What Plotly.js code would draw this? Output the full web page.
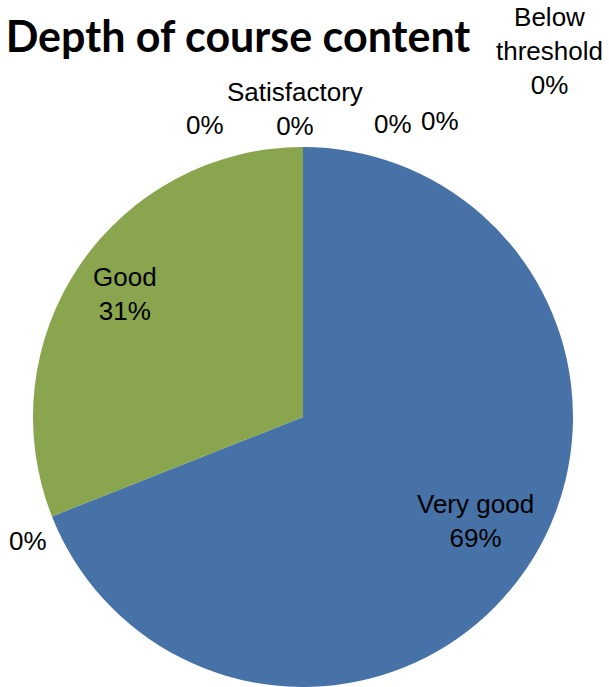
<!DOCTYPE html>
<html>
<head>
<meta charset="utf-8">
<script src="https://cdn.plot.ly/plotly-3.0.1.min.js"></script>
<style>html,body{margin:0;padding:0;background:#fff;}#chart{width:609px;height:687px;}</style>
</head>
<body>
<div id="chart"></div>
<script>
// Data
var categories = ["Very good", "", "Good", "", "", "Satisfactory", "", "Below threshold"];
var shares = [69, 0, 31, 0, 0, 0, 0, 0];
var sliceColors = ["#4672A8", "#AA4643", "#89A54E", "#80699B", "#3D96AE", "#DB843D", "#92A8CD", "#A47D7C"];
var chartTitle = "Depth of course content";

// data-label placement (pixels, as Excel placed them)
var labelPos = {
  0: [475, 521],
  1: [28, 541],
  2: [125, 294],
  3: [205, 125],
  4: [393, 124],
  5: [295, 109],
  6: [440, 121],
  7: [549, 51]
};

var W = 609, H = 687;
var labelFont = { family: "Liberation Sans, Arial, sans-serif", size: 26, color: "#000" };

var trace = {
  type: "pie",
  values: shares,
  labels: categories.map(function (c, i) { return c || ("#" + i); }),
  textinfo: "none",
  sort: false,
  direction: "clockwise",
  rotation: 0,
  marker: { colors: sliceColors, line: { width: 0 } },
  domain: { x: [32 / W, 574 / W], y: [0, 540 / H] },
  showlegend: false,
  hoverinfo: "none"
};

var total = shares.reduce(function (a, b) { return a + b; }, 0);
var annotations = [];
Object.keys(labelPos).forEach(function (k) {
  var i = +k;
  var p = labelPos[k];
  var name = categories[i];
  if (name === "Below threshold") name = "Below<br>threshold";
  var t = (name ? name + "<br>" : "") + Math.round(100 * shares[i] / total) + "%";
  annotations.push({
    xref: "paper", yref: "paper",
    x: p[0] / W, y: 1 - p[1] / H,
    xanchor: "center", yanchor: "middle",
    text: t, showarrow: false,
    font: labelFont
  });
});

var layout = {
  width: W, height: H,
  margin: { l: 0, r: 0, t: 0, b: 0 },
  paper_bgcolor: "#fff",
  title: {
    text: "<b>" + chartTitle + "</b>",
    x: 238 / W, xanchor: "center",
    y: 1 - 37 / H, yanchor: "middle",
    xref: "paper", yref: "paper",
    font: { family: "Lato, Carlito, sans-serif", size: 43, color: "#000" }
  },
  annotations: annotations
};

Plotly.newPlot("chart", [trace], layout, { displayModeBar: false, staticPlot: true });
</script>
</body>
</html>
